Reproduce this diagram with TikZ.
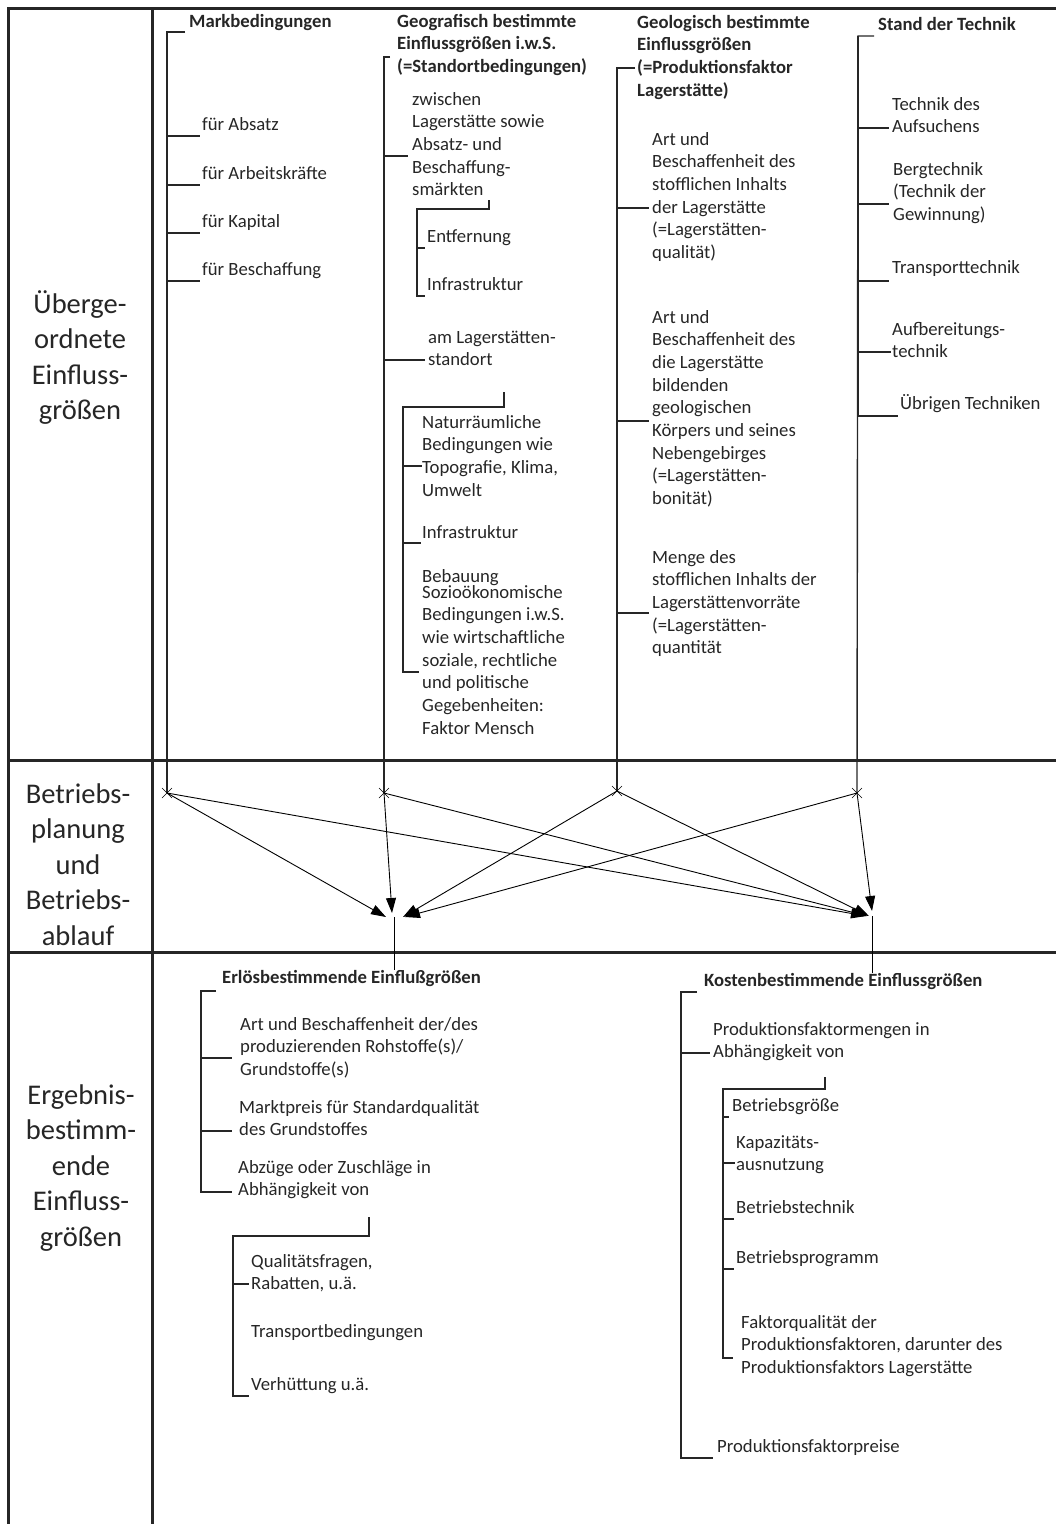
\documentclass[tikz,border=0pt]{standalone}
\usepackage{fontspec}
\setmainfont{Carlito}
\usetikzlibrary{arrows.meta}
\newcommand\lblock[1]{\begin{tabular}[t]{@{}l@{}}#1\end{tabular}}
\newcommand\cblock[1]{\begin{tabular}[t]{@{}c@{}}#1\end{tabular}}
\tikzset{
  every node/.style={inner sep=0pt, text=black!85},
  txt/.style={font=\fontsize{18.7}{22.7}\selectfont, anchor=base west},
  hd/.style={font=\bfseries\fontsize{18.7}{22.7}\selectfont, anchor=base west},
  side/.style={font=\fontsize{28.5}{35.5}\selectfont, anchor=base},
  rule/.style={line width=3pt, black!85},
  spine/.style={line width=1.4pt, black!85},
  flow/.style={line width=0.9pt, -{Triangle[length=15pt,width=10pt]}},
}
\begin{document}
\begin{tikzpicture}[x=1pt,y=-1pt]
\useasboundingbox (0,0) rectangle (1056,1524);
% table
\draw[rule] (8,1524) -- (8,8) -- (1056,8);
\draw[rule] (152,8) -- (152,1524);
\draw[rule] (8,760) -- (1056,760);
\draw[rule] (8,952) -- (1056,952);
\node[side] (ueber) at (80,313) {\cblock{Überge-\\ordnete\\Einfluss-\\größen}};
\node[side] (betr) at (78,803) {\cblock{Betriebs-\\planung\\und\\Betriebs-\\ablauf}};
\node[side] (ergeb) at (81,1104) {\cblock{Ergebnis-\\bestimm-\\ende\\Einfluss-\\größen}};

% Markbedingungen
\node[hd] (mark) at (189,27) {Markbedingungen};
\coordinate (mk) at (167,32);
\coordinate (A) at (167,793);
\node[txt] (fa) at (202,130) {für Absatz};
\node[txt] (fak) at (202,179) {für Arbeitskräfte};
\node[txt] (fk) at (202,227) {für Kapital};
\node[txt] (fb) at (202,275) {für Beschaffung};
\draw[spine] (mk) ++(18,0) -- (mk) -- (A);
\foreach \n in {fa,fak,fk,fb}
  \draw[spine] (mk) |- ([shift={(-2pt,-6pt)}]\n.base west);

% Geografisch
\node[hd] (geo) at (397,27) {\lblock{Geografisch bestimmte\\Einflussgrößen i.w.S.\\(=Standortbedingungen)}};
\coordinate (gs) at (384,57);
\coordinate (B) at (384,793);
\node[txt] (zw) at (412,105) {\lblock{zwischen\\Lagerstätte sowie\\Absatz- und\\Beschaffung-\\smärkten}};
\node[txt] (ent) at (427,242) {Entfernung};
\node[txt] (inf1) at (427,290) {Infrastruktur};
\node[txt] (am) at (428,343) {\lblock{am Lagerstätten-\\standort}};
\node[txt] (nat) at (422,428) {\lblock{Naturräumliche\\Bedingungen wie\\Topografie, Klima,\\Umwelt}};
\node[txt] (inf2) at (422,538) {Infrastruktur};
\node[txt] (beb) at (422,582) {Bebauung};
\node[txt] (soz) at (422,598) {\lblock{Sozioökonomische\\Bedingungen i.w.S.\\wie wirtschaftliche\\soziale, rechtliche\\und politische\\Gegebenheiten:\\Faktor Mensch}};
\draw[spine] (gs) ++(6,0) -- (gs) -- (B);
\draw[spine] (gs) |- ([shift={(-4pt,-51pt)}]zw.base west);
\draw[spine] (gs) |- ([shift={(-3pt,-17pt)}]am.base west);
\coordinate (zwt) at (489,200);
\coordinate (zwb) at (417,209);
\draw[spine] (zwt) |- (zwb) |- ([shift={(-2pt,-6pt)}]inf1.base west);
\draw[spine] (zwb) |- ([shift={(-2pt,-6pt)}]ent.base west);
\coordinate (amt) at (504,392);
\coordinate (amb) at (403,407);
\draw[spine] (amt) |- (amb) |- ([shift={(-3pt,-74pt)}]soz.base west);
\draw[spine] (amb) |- ([shift={(0pt,-38pt)}]nat.base west);
\draw[spine] (amb) |- ([shift={(-1pt,-5pt)}]inf2.base west);

% Geologisch
\node[hd] (geol) at (637,28) {\lblock{Geologisch bestimmte\\Einflussgrößen\\(=Produktionsfaktor\\Lagerstätte)}};
\coordinate (gl) at (617,68);
\coordinate (C) at (617,791);
\node[txt] (q1) at (652,145) {\lblock{Art und\\Beschaffenheit des\\stofflichen Inhalts\\der Lagerstätte\\(=Lagerstätten-\\qualität)}};
\node[txt] (q2) at (652,323) {\lblock{Art und\\Beschaffenheit des\\die Lagerstätte\\bildenden\\geologischen\\Körpers und seines\\Nebengebirges\\(=Lagerstätten-\\bonität)}};
\node[txt] (q3) at (652,563) {\lblock{Menge des\\stofflichen Inhalts der\\Lagerstättenvorräte\\(=Lagerstätten-\\quantität}};
\draw[spine] (gl) ++(18,0) -- (gl) -- (C);
\draw[spine] (gl) |- ([shift={(-3pt,-63pt)}]q1.base west);
\draw[spine] (gl) |- ([shift={(-3pt,-98pt)}]q2.base west);
\draw[spine] (gl) |- ([shift={(-3pt,-50pt)}]q3.base west);

% Stand der Technik
\node[hd] (tech) at (878,30) {Stand der Technik};
\coordinate (st) at (858,36);
\coordinate (D) at (857,793);
\node[txt] (t1) at (892,110) {\lblock{Technik des\\Aufsuchens}};
\node[txt] (t2) at (893,175) {\lblock{Bergtechnik\\(Technik der\\Gewinnung)}};
\node[txt] (t3) at (892,273) {Transporttechnik};
\node[txt] (t4) at (892,335) {\lblock{Aufbereitungs-\\technik}};
\node[txt] (t5) at (900,409) {Übrigen Techniken};
\draw[spine] (st) ++(16,0) -- (st) -- (D);
\draw[spine] (st) |- ([shift={(-3pt,-18pt)}]t1.base west);
\draw[spine] (st) |- ([shift={(-4pt,-29pt)}]t2.base west);
\draw[spine] (st) |- ([shift={(-3pt,-8pt)}]t3.base west);
\draw[spine] (st) |- ([shift={(-1pt,-17pt)}]t4.base west);
\draw[spine] (st) |- ([shift={(-2pt,-7pt)}]t5.base west);

% Betriebsplanung
\foreach \p in {A,B,C,D}
  \draw[thin] ([shift={(-5pt,-5pt)}]\p) -- ([shift={(5pt,5pt)}]\p)
              ([shift={(-5pt,5pt)}]\p) -- ([shift={(5pt,-5pt)}]\p);
\coordinate (L) at (394,917);
\coordinate (R) at (872,916);
\draw[flow] (A) -- ([xshift=-8pt]L);
\draw[flow] (B) -- ([shift={(-2pt,4pt)}]L);
\draw[flow] (C) -- ([xshift=9pt]L);
\draw[flow] (D) -- ([xshift=11pt]L);
\draw[flow] (A) -- ([xshift=-6pt]R);
\draw[flow] (B) -- ([xshift=-5pt]R);
\draw[flow] (C) -- ([xshift=-3pt]R);
\draw[flow] (D) -- ([yshift=5pt]R);

% Erloesbestimmende
\node[hd] (erl) at (222,983) {Erlösbestimmende Einflußgrößen};
\coordinate (es) at (201,991);
\node[txt] (e1) at (240,1030) {\lblock{Art und Beschaffenheit der/des\\produzierenden Rohstoffe(s)/\\Grundstoffe(s)}};
\node[txt] (e2) at (239,1113) {\lblock{Marktpreis für Standardqualität\\des Grundstoffes}};
\node[txt] (e3) at (238,1173) {\lblock{Abzüge oder Zuschläge in\\Abhängigkeit von}};
\node[txt] (r1) at (251,1267) {\lblock{Qualitätsfragen,\\Rabatten, u.ä.}};
\node[txt] (r2) at (251,1337) {Transportbedingungen};
\node[txt] (r3) at (251,1390) {Verhüttung u.ä.};
\draw[thin] (L) -- (L |- erl.north);
\draw[spine] (es) ++(15,0) -- (es) |- ([shift={(-6pt,-19pt)}]e3.base west);
\draw[spine] (es) |- ([shift={(-8pt,-28pt)}]e1.base west);
\draw[spine] (es) |- ([shift={(-7pt,-18pt)}]e2.base west);
\coordinate (et) at (369,1217);
\coordinate (eb) at (233,1236);
\draw[spine] (et) |- (eb) |- ([shift={(-2pt,-6pt)}]r3.base west);
\draw[spine] (eb) |- ([shift={(-2pt,-17pt)}]r1.base west);

% Kostenbestimmende
\node[hd] (kost) at (704,986) {Kostenbestimmende Einflussgrößen};
\coordinate (ks) at (681,992);
\node[txt] (k1) at (713,1035) {\lblock{Produktionsfaktormengen in\\Abhängigkeit von}};
\node[txt] (b1) at (732,1111) {Betriebsgröße};
\node[txt] (b2) at (736,1148) {\lblock{Kapazitäts-\\ausnutzung}};
\node[txt] (b3) at (736,1213) {Betriebstechnik};
\node[txt] (b4) at (736,1263) {Betriebsprogramm};
\node[txt] (b5) at (741,1328) {\lblock{Faktorqualität der\\Produktionsfaktoren, darunter des\\Produktionsfaktors Lagerstätte}};
\node[txt] (k2) at (717,1452) {Produktionsfaktorpreise};
\draw[thin] (R) -- (R |- kost.north);
\draw[spine] (ks) ++(16,0) -- (ks) |- ([shift={(-4pt,-6pt)}]k2.base west);
\draw[spine] (ks) |- ([shift={(-3pt,-18pt)}]k1.base west);
\coordinate (kt) at (825,1077);
\coordinate (kb) at (723,1089);
\draw[spine] (kt) |- (kb) |- ([shift={(-8pt,-30pt)}]b5.base west);
\draw[spine] (kb) |- ([shift={(-3pt,-6pt)}]b1.base west);
\draw[spine] (kb) |- ([shift={(-1pt,-15pt)}]b2.base west);
\draw[spine] (kb) |- ([shift={(-2pt,-6pt)}]b3.base west);
\draw[spine] (kb) |- ([shift={(-2pt,-6pt)}]b4.base west);
\end{tikzpicture}
\end{document}
